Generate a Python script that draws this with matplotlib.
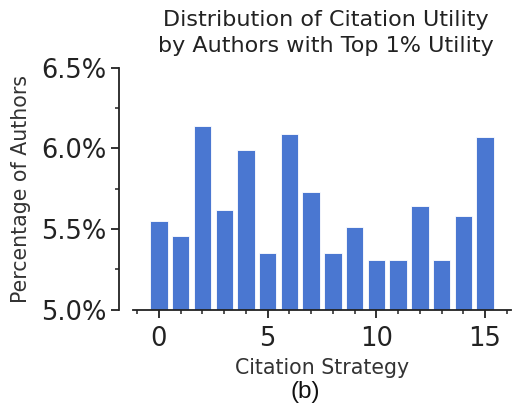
import matplotlib
matplotlib.use("Agg")
from matplotlib import pyplot as plt
from matplotlib.ticker import MultipleLocator, FuncFormatter

# Share of top-1% authors using each citation strategy (percent)
strategies = list(range(16))
share = [5.55, 5.46, 6.14, 5.62, 5.99, 5.35, 6.09, 5.73,
         5.35, 5.51, 5.31, 5.31, 5.64, 5.31, 5.58, 6.07]

fig = plt.figure(figsize=(5.14, 4.05), dpi=100)
ax = fig.add_axes([0.259, 0.235, 0.735, 0.598])

ax.bar(strategies, share, width=0.8, color='#4a77d1', edgecolor='white', linewidth=0.6)

ax.set_ylim(5.0, 6.5)
ax.yaxis.set_major_locator(MultipleLocator(0.5))
ax.yaxis.set_minor_locator(MultipleLocator(0.25))
ax.yaxis.set_major_formatter(FuncFormatter(lambda v, p: '%.1f%%' % v))
ax.xaxis.set_major_locator(MultipleLocator(5))
ax.xaxis.set_minor_locator(MultipleLocator(1))

# open axes, left spine pushed out
for s in ['top', 'right']:
    ax.spines[s].set_visible(False)
ax.spines['left'].set_position(('outward', 10))
for s in ['left', 'bottom']:
    ax.spines[s].set_linewidth(1.3)
    ax.spines[s].set_color('#222222')

ax.tick_params(which='major', length=5.8, width=1.3, color='#222222', labelsize=18.5, labelcolor='#222222')
ax.tick_params(which='minor', length=3.1, width=1.1, color='#222222')
ax.tick_params(axis='x', which='major', pad=6)

ax.set_xlabel('Citation Strategy', fontsize=14.8, color='#333333', labelpad=4)
ax.set_ylabel('Percentage of Authors', fontsize=14.8, color='#333333', labelpad=7)
ax.set_title('Distribution of Citation Utility\nby Authors with Top 1% Utility',
             fontsize=16, color='#222222', pad=11, linespacing=1.42, x=0.51)

fig.text(0.593, 0.032, '(b)', ha='center', va='center', fontsize=17.5,
         family='Liberation Sans', color='#111111')

plt.savefig('out.png', dpi=100)
